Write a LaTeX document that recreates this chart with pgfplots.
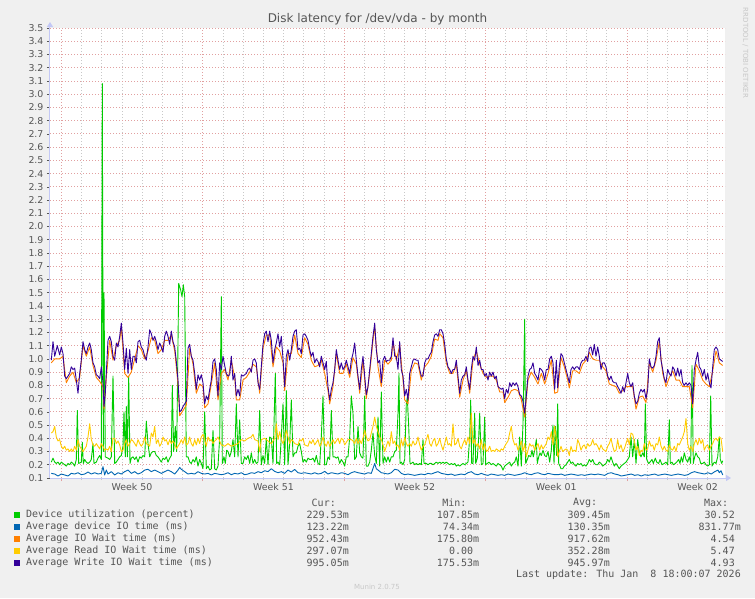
\documentclass[border=0pt]{standalone}
\usepackage{fontspec}
\setmainfont{DejaVu Sans}
\newfontfamily\monofont{DejaVu Sans Mono}
\usepackage{pgfplots}
\pgfplotsset{compat=1.18}
\usetikzlibrary{arrows.meta}

\definecolor{cgreen}{HTML}{00CC00}
\definecolor{cblue}{HTML}{0066B3}
\definecolor{corange}{HTML}{FF8000}
\definecolor{cyellow}{HTML}{FFCC00}
\definecolor{cpurple}{HTML}{330099}
\definecolor{bg}{HTML}{F0F0F0}
\definecolor{txt}{HTML}{555555}
\definecolor{gridred}{RGB}{225,160,160}
\definecolor{gridgray}{RGB}{200,200,200}
\definecolor{axisblue}{RGB}{195,200,245}

\newcommand{\mono}{\monofont\fontsize{10}{12}\selectfont}

\begin{document}
\begin{tikzpicture}[x=1pt,y=1pt]
\fill[bg] (0,0) rectangle (755,598);
\useasboundingbox (0,0) rectangle (755,598);

% title and side text
\node[text=txt, font=\fontsize{12}{14}\selectfont] at (377.5,579) {Disk latency for /dev/vda - by month};
\node[text=gridgray, rotate=-90, font=\fontsize{7}{8}\selectfont] at (745.5,545) {RRDTOOL / TOBI OETIKER};

\begin{axis}[
  at={(50pt,120pt)}, anchor=south west,
  scale only axis, width=675pt, height=450pt,
  xmin=50, xmax=725, ymin=0.1, ymax=3.5,
  axis x line=bottom, axis y line=left,
  axis background/.style={fill=white},
  x axis line style={draw=axisblue, line width=1pt, shorten >=-6pt, -{Triangle[width=6pt,length=5pt]}},
  y axis line style={draw=axisblue, line width=1pt, shorten >=-6pt, -{Triangle[width=6pt,length=5pt]}},
  xtick={61.3,202.7,344.1,485.5,626.9},
  xticklabels={},
  minor xtick={81.5,101.7,121.9,142.1,162.3,182.5,222.9,243.1,263.3,283.5,303.7,323.9,364.3,384.5,404.7,424.9,445.1,465.3,505.7,525.9,546.1,566.3,586.5,606.7,647.1,667.3,687.5,707.7},
  extra x ticks={132,273.4,414.8,556.2,697.6},
  extra x tick labels={Week 50,Week 51,Week 52,Week 01,Week 02},
  extra x tick style={grid=none, major tick length=0pt, ticklabel style={yshift=-2pt}},
  ytick={0.1,0.2,0.3,0.4,0.5,0.6,0.7,0.8,0.9,1.0,1.1,1.2,1.3,1.4,1.5,1.6,1.7,1.8,1.9,2.0,2.1,2.2,2.3,2.4,2.5,2.6,2.7,2.8,2.9,3.0,3.1,3.2,3.3,3.4,3.5},
  yticklabel={\pgfmathprintnumber[fixed,fixed zerofill,precision=1]{\tick}},
  /pgf/number format/assume math mode=true,
  tick label style={font=\fontsize{9.4}{11}\selectfont, text=txt},
  tick align=outside,
  major tick length=3pt, minor tick length=2pt,
  x tick style={draw=gridred, line width=0.8pt},
  minor x tick style={draw=gridgray, line width=0.8pt},
  y tick style={draw=txt, line width=0.6pt},
  grid=both,
  major grid style={draw=gridred, line width=0.8pt, dash pattern=on 1pt off 2pt},
  minor grid style={draw=gridgray, line width=0.8pt, dash pattern=on 1pt off 2pt},
  every axis plot/.append style={no marks, line width=0.9pt, line join=round},
  clip=true,
]
% Device utilization (percent)
\addplot[cgreen] coordinates {(51.3,0.22)(53,0.25)(54.7,0.22)(56.3,0.21)(58,0.22)(59.7,0.20)(61.3,0.22)(63,0.21)(64.7,0.20)(66.3,0.19)(68,0.21)(69.7,0.20)(71.3,0.22)(73,0.21)(74.7,0.19)(76.3,0.24)(77.3,0.61)(78.7,0.21)(81.3,0.22)(82.3,0.37)(83.3,0.21)(84.7,0.24)(86.3,0.22)(88,0.21)(89.7,0.22)(91.3,0.24)(93,0.36)(94,0.21)(96.3,0.22)(98,0.25)(99.7,0.27)(101.3,0.24)(102.3,3.08)(103.3,0.30)(104,1.50)(105.3,0.26)(108,0.25)(109.7,0.24)(111.3,0.26)(113,0.87)(114.7,0.21)(116.3,0.22)(118,0.24)(119.7,0.26)(121.3,0.27)(123,0.34)(124,0.60)(125.3,0.26)(126.3,0.64)(127.3,0.26)(128.7,0.87)(130,0.21)(131.3,0.25)(133,0.26)(134.7,0.24)(136.3,0.26)(138,0.22)(139.7,0.26)(141.3,0.25)(143,0.27)(144.7,0.26)(146.3,0.53)(148,0.36)(149.7,0.26)(151.3,0.29)(153,0.30)(154.7,0.30)(156.3,0.27)(158,0.26)(159.7,0.24)(161.3,0.22)(163,0.25)(164.7,0.24)(166.3,0.26)(168,0.22)(169.7,0.25)(171.3,0.27)(172.3,0.80)(173.7,0.30)(175.3,0.49)(176.7,0.30)(178.7,1.57)(180.7,1.52)(182,1.47)(183.3,1.56)(184.7,1.47)(186.3,0.26)(188,0.26)(189.7,0.22)(191.3,0.21)(193,0.24)(194.7,0.22)(196.3,0.26)(198,0.19)(199.7,0.24)(201.3,0.21)(203,0.17)(204.7,0.60)(206.3,0.17)(208,0.19)(209.7,0.16)(211.3,0.17)(213,0.46)(214.7,0.17)(216.3,0.16)(218,0.19)
(219.7,0.41)(221.3,1.47)(222.3,0.21)(224,0.26)(225.3,0.21)(226.7,0.31)(228,0.30)(229.7,0.26)(231.3,0.30)(233,0.39)(234.7,0.26)(236.3,0.66)(238,0.26)(239.7,0.54)(241.3,0.21)(243,0.21)(244.7,0.26)(246.3,0.24)(248,0.27)(249.7,0.21)(251.3,0.29)(253,0.21)(254.7,0.24)(256.3,0.21)(258,0.22)(259.7,0.61)(261.3,0.20)(263,0.27)(264.7,0.21)(266.3,0.40)(268,0.20)(269.7,0.41)(271.3,0.40)(273,0.21)(275.3,0.89)(276.7,0.21)(278,0.22)(279.7,0.20)(281.3,0.41)(283,0.66)(284.7,0.20)(286.3,0.76)(288,0.20)(289.7,0.36)(291.3,0.69)(293,0.26)(294.7,0.29)(296.3,0.29)(298,0.34)(299.7,0.36)(301.3,0.30)(303,0.22)(304.7,0.24)(306.3,0.22)(308,0.25)(309.7,0.24)(311.3,0.24)(313,0.25)(314.7,0.22)(316.3,0.27)(318,0.21)(319.7,0.20)(321.3,0.41)(323,0.72)(324.7,0.20)(326.3,0.20)(328,0.26)(329.7,0.24)(331.3,0.61)(333,0.26)(334.7,0.26)(336.3,0.25)(338,0.26)(339.7,0.21)(341.3,0.24)(343,0.22)(344.7,0.19)(346.3,0.26)(348,0.26)(349.7,0.41)(351.3,0.72)(353,0.59)(354.7,0.24)(356.3,0.26)(358,0.49)(359.7,0.29)(361.3,0.26)(363,0.25)(364.7,0.72)(366.3,0.19)(368,0.19)(369.7,0.22)(371.3,0.31)(373,0.44)(374.7,0.27)(376.3,0.21)(378,0.56)(379.7,0.19)(381.3,0.75)(383,0.21)(384.7,0.26)(386.3,0.22)(388,0.26)
(389.7,0.22)(391.3,0.26)(393,0.26)(394.7,0.30)(396.3,0.31)(398,0.59)(399,0.89)(400,0.21)(401.3,0.22)(403,0.20)(404.7,0.24)(406.3,0.66)(407.3,0.71)(408.7,0.49)(410,0.21)(411.3,0.21)(413,0.22)(414.7,0.20)(416.3,0.21)(418,0.20)(419.7,0.21)(421.3,0.20)(423,0.39)(424,0.21)(426.3,0.21)(428,0.20)(429.7,0.21)(431.3,0.21)(433,0.20)(434.7,0.21)(436.3,0.22)(438,0.21)(439.7,0.22)(441.3,0.21)(443,0.22)(444.7,0.21)(446.3,0.22)(448,0.21)(449.7,0.20)(451.3,0.21)(453,0.20)(454.7,0.21)(456.3,0.19)(458,0.20)(459.7,0.19)(461.3,0.20)(463,0.21)(464.7,0.20)(466.3,0.21)(468,0.22)(469.7,0.41)(470.7,0.69)(471.7,0.21)(473,0.21)(474.7,0.59)(475.7,0.21)(477.3,0.25)(478.7,0.41)(479.7,0.59)(481.3,0.20)(483,0.21)(484.7,0.56)(485.7,0.20)(487.3,0.21)(489,0.22)(491.3,0.20)(493,0.21)(494.7,0.20)(496.3,0.19)(498,0.21)(499.7,0.20)(501.3,0.19)(503,0.16)(504.7,0.19)(506.3,0.20)(508,0.21)(509.7,0.22)(511.3,0.19)(513,0.21)(514.7,0.22)(516.3,0.26)(518,0.19)(519.7,0.41)(521.3,0.19)(523,0.51)(524.7,1.30)(525.7,0.21)(527.3,0.24)(528.7,0.27)(530.7,0.26)(532,0.31)(533.3,0.26)(534.7,0.31)(536.3,0.39)(537.3,0.21)(538.7,0.26)(540,0.29)(541.3,0.27)(543,0.31)(544.7,0.27)(546.3,0.26)(548,0.30)(549.7,0.22)(551.3,0.31)(553,0.50)(554,0.21)(555.3,0.49)(556.7,0.27)
(557.7,0.66)(558.7,0.21)(560,0.19)(561,0.17)(562.7,0.17)(564.3,0.19)(566,0.20)(567.7,0.22)(569.3,0.24)(571,0.21)(572.7,0.22)(574.3,0.20)(576,0.19)(577.7,0.21)(579.3,0.20)(581,0.21)(582.7,0.19)(584.3,0.20)(586,0.19)(587.7,0.21)(589.3,0.24)(591,0.22)(592.7,0.24)(594.3,0.21)(596,0.20)(597.7,0.20)(599.3,0.22)(601,0.21)(602.7,0.19)(604.3,0.20)(606,0.21)(607.7,0.24)(609.3,0.22)(611,0.26)(612.7,0.22)(614.3,0.19)(616,0.21)(617.7,0.19)(619.3,0.17)(621,0.19)(622.7,0.20)(624.3,0.21)(626,0.22)(627.7,0.24)(629.3,0.26)(631,0.41)(632.7,0.26)(634.3,0.39)(636,0.21)(637.7,0.39)(639.3,0.29)(641,0.26)(642.7,0.29)(644.3,0.26)(645.3,0.66)(646.7,0.24)(648.7,0.21)(650,0.22)(652,0.24)(653.3,0.21)(655.3,0.25)(656.7,0.22)(658.7,0.21)(660,0.24)(662,0.20)(664.3,0.21)(666,0.22)(667.7,0.20)(669.3,0.54)(670.3,0.21)(672,0.22)(673.3,0.20)(675.3,0.21)(676.7,0.22)(678.7,0.24)(680,0.21)(681.3,0.26)(682.7,0.22)(684.3,0.29)(686,0.24)(687.7,0.22)(689.3,0.26)(690.7,0.21)(692,0.95)(693.3,0.21)(694.7,0.26)(696,0.29)(697.7,0.26)(699.3,0.25)(700.7,0.21)(702.7,0.21)(704.3,0.22)(706,0.20)(707.7,0.19)(709.3,0.20)(710.7,0.72)(712,0.19)(713.3,0.21)(714.7,0.22)(716,0.21)(717.7,0.26)(719.3,0.41)(720.3,0.24)(721.7,0.21)(722.7,0.23)};
% Average device IO time (ms)
\addplot[cblue] coordinates {(51.3,0.135)(54.7,0.13)(58,0.115)(61.3,0.13)(64.7,0.123)(68,0.115)(71.3,0.135)(74.7,0.13)(78,0.14)(81.3,0.125)(84.7,0.13)(88,0.145)(91.3,0.13)(94.7,0.14)(98,0.13)(101.3,0.135)(103,0.186)(104.7,0.123)(106.3,0.16)(108,0.13)(111.3,0.148)(114.7,0.123)(118,0.14)(121.3,0.13)(124.7,0.148)(128,0.16)(131.3,0.135)(134.7,0.148)(138,0.13)(141.3,0.14)(144.7,0.16)(148,0.166)(151.3,0.148)(154.7,0.16)(158,0.148)(161.3,0.135)(164.7,0.148)(168,0.16)(171.3,0.148)(174.7,0.13)(178,0.16)(179.7,0.18)(181.3,0.166)(184.7,0.148)(188,0.13)(191.3,0.135)(194.7,0.13)(198,0.148)(201.3,0.135)(204.7,0.13)(208,0.135)(211.3,0.123)(214.7,0.135)(218,0.13)
(221.3,0.125)(224.7,0.13)(228,0.14)(231.3,0.125)(234.7,0.135)(238,0.13)(241.3,0.14)(244.7,0.125)(248,0.13)(251.3,0.14)(254.7,0.135)(258,0.148)(261.3,0.14)(264.7,0.155)(268,0.148)(271.3,0.17)(274.7,0.15)(278,0.14)(281.3,0.148)(284.7,0.135)(288,0.16)(291.3,0.145)(294.7,0.165)(298,0.14)(301.3,0.135)(304.7,0.14)(308,0.135)(311.3,0.13)(314.7,0.14)(318,0.13)(321.3,0.135)(324.7,0.15)(328,0.13)(331.3,0.14)(334.7,0.135)(338,0.13)(341.3,0.14)(344.7,0.135)(348,0.125)(351.3,0.14)(354.7,0.148)(358,0.14)(361.3,0.135)(364.7,0.13)(368,0.14)(371.3,0.135)(374.7,0.21)(376.3,0.17)(378,0.16)(381.3,0.14)(384.7,0.135)(388,0.13)
(391.3,0.14)(394.7,0.166)(398,0.16)(401.3,0.135)(404.7,0.125)(408,0.13)(411.3,0.125)(414.7,0.12)(418,0.125)(421.3,0.13)(424.7,0.125)(428,0.135)(431.3,0.13)(434.7,0.14)(438,0.148)(441.3,0.135)(444.7,0.13)(448,0.125)(451.3,0.13)(454.7,0.12)(458,0.125)(461.3,0.13)(464.7,0.125)(468,0.14)(471.3,0.148)(474.7,0.13)(478,0.125)(481.3,0.135)(484.7,0.125)(488,0.12)(491.3,0.13)(494.7,0.125)(498,0.12)(501.3,0.125)(504.7,0.12)(508,0.13)(511.3,0.125)(514.7,0.12)(518,0.125)(521.3,0.13)(524.7,0.14)(528,0.13)(531.3,0.125)(534.7,0.135)(538,0.14)(541.3,0.13)(544.7,0.125)(548,0.135)(551.3,0.13)(554.7,0.125)
(558,0.125)(561.3,0.13)(564.7,0.12)(568,0.125)(571.3,0.13)(574.7,0.125)(578,0.12)(581.3,0.125)(584.7,0.12)(588,0.125)(591.3,0.13)(594.7,0.125)(598,0.13)(601.3,0.125)(604.7,0.12)(608,0.135)(611.3,0.14)(614.7,0.13)(618,0.125)(621.3,0.115)(624.7,0.12)(628,0.125)(631.3,0.13)(634.7,0.12)(638,0.125)(641.3,0.115)(644.7,0.125)(648,0.12)(651.3,0.125)(654.7,0.13)(658,0.12)(661.3,0.125)(664.7,0.13)(668,0.125)(671.3,0.12)(674.7,0.125)(678,0.13)(681.3,0.125)(684.7,0.12)(688,0.125)(691.3,0.14)(694.7,0.148)(698,0.14)(701.3,0.135)(704.7,0.13)(708,0.14)(711.3,0.13)(714.7,0.148)(718,0.16)(719.3,0.14)(721,0.155)(722.7,0.123)};
% Average IO Wait time (ms)
\addplot[corange] coordinates {(51.3,0.97)(54.7,1.00)(59.7,1.00)(63,1.02)(66.3,0.82)(69.7,0.87)(73,0.90)(76.3,0.82)(79.7,0.86)(83,1.10)(86.3,1.02)(89.7,1.09)(93,0.95)(96.3,0.86)(99.7,0.83)(103,0.79)(104,0.62)(106.3,0.86)(109.7,1.14)(113,0.99)(116.3,1.10)(119.7,1.14)(121.3,1.24)(124.7,0.89)(128,0.86)(131.3,0.90)(134.7,1.00)(138,1.10)(141.3,1.07)(144.7,1.00)(148,1.06)(151.3,1.16)(154.7,1.14)(158,1.04)(161.3,1.07)(164.7,1.14)(168,1.14)(171.3,1.18)(174.7,1.06)(178,0.81)(179.7,0.57)(183,0.61)(186.3,0.65)(189.7,1.08)(193,0.96)(196.3,0.74)(199.7,0.81)(203,0.79)(204.7,0.63)(208,0.66)(211.3,0.81)(214.7,0.97)(218,0.69)(221.3,0.89)(224.7,0.92)(228,0.84)(231.3,0.99)(234.7,0.86)(236.3,0.69)(239.7,0.69)(243,0.84)(246.3,0.86)(249.7,0.90)(253,0.96)(256.3,0.94)(259.7,0.74)(263,1.08)(266.3,1.18)(269.7,1.18)(273,0.94)(276.3,1.09)(279.7,1.06)(283,0.97)(284.7,0.76)(288,1.04)(291.3,1.04)(294.7,1.18)(298,1.04)(301.3,1.01)(304.7,1.16)(308,1.11)(311.3,0.99)(314.7,0.94)(318,0.95)(321.3,0.99)(324.7,0.89)(328,0.76)(329.7,0.66)(333,0.79)(336.3,1.04)(339.7,0.89)(343,0.89)(346.3,0.96)(349.7,0.86)(353,1.01)(356.3,0.96)(359.7,0.74)(363,0.99)(366.3,0.70)(369.7,0.89)(373,1.14)(374.7,1.24)(378,0.94)(381.3,0.79)(384.7,0.99)(388,0.96)(391.3,0.99)(393,1.13)(396.3,0.99)(399.7,1.10)(403,0.84)(404.7,0.69)(408,0.66)(411.3,0.91)(414.7,0.97)(418,0.96)(421.3,0.84)(424.7,0.94)(428,0.97)(431.3,1.02)(434.7,1.15)(438,1.14)(439.7,1.19)(443,1.16)(446.3,0.97)(449.7,0.89)(453,0.89)(456.3,0.96)(459.7,0.71)(463,0.84)(466.3,0.91)(469.7,0.74)(473,0.99)(476.3,1.06)(479.7,0.96)(483,0.89)(486.3,0.86)(489.7,0.87)(493,0.87)(496.3,0.84)(499.7,0.75)(503,0.75)(504.7,0.67)(508,0.71)(511.3,0.76)(514.7,0.77)(518,0.76)(521.3,0.69)(524.7,0.56)(528,0.84)(531.3,0.90)(534.7,0.86)(538,0.81)(541.3,0.89)(544.7,0.81)(548,0.89)(551.3,0.99)(554.7,0.74)(557.7,0.75)(561,1.01)(564.3,0.94)(567.7,0.84)(569.3,0.78)(572.7,0.91)(576,0.91)(579.3,0.89)(582.7,0.96)(586,0.99)(589.3,1.05)(592.7,1.00)(596,0.99)(599.3,0.99)(602.7,0.94)(606,0.91)(609.3,0.81)(612.7,0.80)(616,0.79)(619.3,0.74)(622.7,0.76)(626,0.79)(629.3,0.79)(632.7,0.79)(636,0.62)(639.3,0.71)(642.7,0.72)(646,0.67)(649.3,0.97)(652.7,0.90)(656,0.99)(659.3,1.13)(662.7,0.89)(666,0.79)(669.3,0.86)(672.7,0.91)(676,0.84)(679.3,0.84)(682.7,0.79)(686,0.79)(689.3,0.79)(692.7,0.63)(696,0.96)(699.3,0.91)(702.7,0.84)(706,0.81)(709.3,0.79)(712.7,0.91)(716,1.06)(719.3,0.97)(722.7,0.95)};
% Average Read IO Wait time (ms)
\addplot[cyellow] coordinates {(51.3,0.44)(53,0.45)(54.7,0.49)(56.3,0.41)(58,0.38)(59.7,0.39)(61.3,0.34)(63,0.32)(64.7,0.34)(66.3,0.31)(68,0.32)(69.7,0.30)(71.3,0.32)(73,0.30)(74.7,0.34)(76.3,0.31)(78,0.39)(79.7,0.34)(81.3,0.32)(83,0.30)(84.7,0.32)(86.3,0.34)(88,0.41)(89.7,0.51)(91.3,0.39)(93,0.35)(94.7,0.34)(96.3,0.36)(98,0.34)(99.7,0.32)(101.3,0.36)(103,0.34)(104.7,0.31)(106.3,0.32)(108,0.31)(109.7,0.34)(111.3,0.30)(113,0.40)(114.7,0.40)(116.3,0.36)(118,0.38)(119.7,0.35)(121.3,0.30)(123,0.31)(124.7,0.36)(126.3,0.39)(128,0.34)(129.7,0.36)(131.3,0.39)(133,0.38)(134.7,0.36)(136.3,0.34)(138,0.39)(139.7,0.36)(141.3,0.34)(143,0.36)(144.7,0.41)(146.3,0.36)(148,0.35)(149.7,0.34)(151.3,0.44)(153,0.41)(154.7,0.49)(156.3,0.36)(158,0.39)(159.7,0.34)(161.3,0.36)(163,0.41)(164.7,0.38)(166.3,0.39)(168,0.35)(169.7,0.39)(171.3,0.36)(173,0.38)(174.7,0.36)(176.3,0.32)(178,0.34)(179.7,0.36)(181.3,0.39)(183,0.36)(184.7,0.41)(186.3,0.35)(188,0.36)(189.7,0.41)(191.3,0.36)(193,0.34)(194.7,0.39)(196.3,0.35)(198,0.40)(199.7,0.36)(201.3,0.41)(203,0.43)(204.7,0.39)(206.3,0.34)(208,0.41)(209.7,0.38)(211.3,0.39)(213,0.36)(214.7,0.38)(216.3,0.39)(218,0.41)
(221.3,0.35)(224.7,0.34)(228,0.36)(231.3,0.34)(234.7,0.35)(238,0.36)(241.3,0.39)(244.7,0.38)(248,0.40)(251.3,0.41)(253,0.43)(254.7,0.39)(258,0.38)(259.7,0.30)(261.3,0.39)(264.7,0.40)(268,0.38)(271.3,0.36)(274.7,0.40)(276.3,0.51)(278,0.39)(279.7,0.45)(281.3,0.39)(283,0.36)(284.7,0.40)(286.3,0.46)(288,0.41)(289.7,0.36)(291.3,0.39)(293,0.38)(294.7,0.36)(298,0.35)(299.7,0.39)(301.3,0.38)(303,0.40)(304.7,0.35)(308,0.34)(309.7,0.38)(311.3,0.36)(313,0.39)(314.7,0.35)(318,0.39)(319.7,0.34)(321.3,0.36)(323,0.41)(324.7,0.36)(326.3,0.34)(328,0.38)(329.7,0.34)(331.3,0.36)(333,0.39)(334.7,0.36)(338,0.40)(339.7,0.36)(341.3,0.40)(343,0.39)(344.7,0.35)(348,0.39)(351.3,0.39)(353,0.38)(354.7,0.36)(356.3,0.40)(358,0.36)(359.7,0.39)(361.3,0.36)(363,0.40)(364.7,0.46)(366.3,0.41)(368,0.38)(369.7,0.39)(371.3,0.44)(373,0.49)(374.7,0.56)(376.3,0.49)(378,0.45)(379.7,0.41)(381.3,0.39)(383,0.35)(384.7,0.30)(386.3,0.34)(388,0.38)
(389.7,0.34)(391.3,0.45)(393,0.36)(394.7,0.38)(396.3,0.34)(398,0.35)(399.7,0.31)(401.3,0.39)(403,0.34)(404.7,0.41)(406.3,0.36)(408,0.34)(409.7,0.36)(411.3,0.34)(413,0.38)(414.7,0.35)(416.3,0.36)(418,0.41)(419.7,0.35)(421.3,0.31)(423,0.34)(424.7,0.35)(426.3,0.39)(428,0.43)(429.7,0.36)(431.3,0.34)(433,0.38)(434.7,0.40)(436.3,0.34)(438,0.36)(439.7,0.40)(441.3,0.35)(443,0.31)(444.7,0.36)(446.3,0.41)(448,0.35)(449.7,0.36)(451.3,0.34)(453,0.51)(454.7,0.35)(456.3,0.36)(458,0.40)(459.7,0.34)(461.3,0.32)(463,0.36)(464.7,0.39)(466.3,0.35)(468,0.41)(469.7,0.36)(471.3,0.59)(473,0.36)(474.7,0.39)(476.3,0.34)(478,0.36)(479.7,0.32)(481.3,0.39)(483,0.31)(484.7,0.36)(486.3,0.30)(488,0.31)(489.7,0.34)(491.3,0.30)(493,0.31)(494.7,0.30)(496.3,0.32)(498,0.31)(499.7,0.30)(501.3,0.32)(503,0.31)(504.7,0.34)(506.3,0.36)(508,0.38)(509.7,0.44)(511.3,0.49)(513,0.39)(514.7,0.35)(516.3,0.36)(518,0.31)(519.7,0.34)(521.3,0.38)(523,0.30)(524.7,0.36)(526.3,0.26)(528,0.31)(529.7,0.36)(531.3,0.34)(533,0.35)(534.7,0.31)(536.3,0.34)(538,0.36)(539.7,0.31)(541.3,0.35)(543,0.32)(544.7,0.34)(546.3,0.36)(548,0.41)(549.7,0.39)(551.3,0.45)(553,0.35)(554.7,0.49)(556.3,0.39)
(557.7,0.26)(559.3,0.30)(561,0.34)(562.7,0.30)(564.3,0.31)(566,0.32)(567.7,0.31)(569.3,0.27)(571,0.34)(572.7,0.30)(574.3,0.31)(576,0.30)(577.7,0.39)(579.3,0.36)(581,0.31)(582.7,0.34)(584.3,0.35)(586,0.32)(587.7,0.36)(589.3,0.34)(591,0.35)(592.7,0.39)(594.3,0.35)(596,0.36)(597.7,0.34)(599.3,0.31)(601,0.35)(602.7,0.32)(604.3,0.31)(606,0.30)(607.7,0.34)(609.3,0.36)(611,0.40)(612.7,0.34)(614.3,0.30)(616,0.31)(617.7,0.39)(619.3,0.32)(621,0.35)(622.7,0.30)(624.3,0.32)(626,0.36)(627.7,0.40)(629.3,0.35)(631,0.44)(632.7,0.43)(634.3,0.38)(636,0.31)(637.7,0.34)(639.3,0.27)(641,0.31)(642.7,0.30)(644.3,0.36)(646,0.31)(647.7,0.32)(649.3,0.38)(651,0.34)(652.7,0.35)(654.3,0.31)(656,0.36)(657.7,0.35)(659.3,0.41)(661,0.34)(662.7,0.31)(664.3,0.34)(666,0.31)(667.7,0.30)(669.3,0.35)(671,0.32)(672.7,0.31)(674.3,0.34)(676,0.30)(677.7,0.36)(679.3,0.35)(681,0.38)(682.7,0.41)(684.3,0.45)(686,0.55)(687.7,0.36)(689.3,0.31)(691,0.34)(692.7,0.30)(694.3,0.36)(696,0.39)(697.7,0.35)(699.3,0.40)(701,0.36)(702.7,0.39)(704.3,0.31)(706,0.34)(707.7,0.35)(709.3,0.31)(711,0.34)(712.7,0.36)(714.3,0.39)(716,0.40)(717.7,0.38)(719.3,0.41)(721,0.40)(722.7,0.30)};
% Average Write IO Wait time (ms)
\addplot[cpurple] coordinates {(51.3,0.99)(53,1.13)(54.7,1.02)(57.3,1.10)(59.7,1.03)(61.3,1.09)(63,1.04)(64.7,0.87)(66.3,0.85)(68,0.87)(69.7,0.89)(71.3,0.94)(73,0.92)(74.7,0.93)(76.3,0.84)(78,0.74)(79.7,0.89)(81.3,0.99)(83,1.13)(84.7,1.07)(86.3,1.04)(88,1.09)(89.7,1.12)(91.3,1.07)(93,0.97)(94.7,0.94)(96.3,0.88)(98,0.87)(99.7,0.85)(101.3,0.94)(103,0.82)(104,0.64)(105.3,0.74)(106.3,0.89)(108,1.14)(109.7,1.17)(111.3,1.13)(113,1.02)(114.7,0.99)(116.3,1.12)(118,1.09)(119.7,1.17)(121.3,1.27)(123,1.12)(124.7,0.92)(126.3,1.08)(128,0.89)(129.7,1.07)(131.3,0.92)(133,1.02)(134.7,1.02)(136.3,0.97)(138,1.13)(139.7,1.14)(141.3,1.09)(143,1.07)(144.7,1.02)(146.3,0.99)(148,1.09)(149.7,1.22)(151.3,1.19)(153,1.14)(154.7,1.17)(156.3,1.13)(158,1.07)(159.7,1.12)(161.3,1.09)(163,1.05)(164.7,1.17)(166.3,1.21)(168,1.17)(169.7,1.11)(171.3,1.21)(173,1.13)(174.7,1.09)(176.3,0.98)(178,0.84)(179.7,0.60)(181.3,0.61)(183,0.64)(184.7,0.66)(186.3,0.68)(188,1.08)(189.7,1.11)(191.3,1.02)(193,0.99)(194.7,0.89)(196.3,0.77)(198,0.88)(199.7,0.84)(201.3,0.88)(203,0.82)(204.7,0.66)(206.3,0.72)(208,0.69)(209.7,0.77)(211.3,0.84)(213,0.98)(214.7,1.00)(216.3,0.92)(218,0.72)
(219.7,0.97)(221.3,0.92)(223,1.02)(224.7,0.95)(226.3,0.89)(228,0.87)(229.7,0.88)(231.3,1.02)(233,0.84)(234.7,0.89)(236.3,0.72)(238,0.77)(239.7,0.72)(241.3,0.88)(243,0.87)(244.7,0.88)(246.3,0.89)(248,0.92)(249.7,0.93)(251.3,0.90)(253,0.99)(254.7,1.00)(256.3,0.97)(258,0.82)(259.7,0.77)(261.3,0.94)(263,1.11)(264.7,1.19)(266.3,1.21)(268,1.13)(269.7,1.21)(271.3,1.14)(273,0.97)(274.7,1.07)(276.3,1.12)(278,1.19)(279.7,1.09)(281.3,1.17)(283,1.00)(284.7,0.79)(286.3,1.02)(288,1.07)(289.7,0.99)(291.3,1.07)(293,1.17)(294.7,1.21)(296.3,1.22)(298,1.07)(299.7,1.08)(301.3,1.04)(303,1.18)(304.7,1.19)(306.3,1.17)(308,1.14)(309.7,1.07)(311.3,1.02)(313,1.05)(314.7,0.97)(316.3,1.00)(318,0.98)(319.7,0.94)(321.3,1.02)(323,0.97)(324.7,0.92)(326.3,0.98)(328,0.79)(329.7,0.69)(331.3,0.77)(333,0.82)(334.7,0.92)(336.3,1.07)(338,0.99)(339.7,0.92)(341.3,0.97)(343,0.92)(344.7,0.94)(346.3,0.99)(348,0.94)(349.7,0.89)(351.3,0.99)(353,1.04)(354.7,1.12)(356.3,0.99)(358,0.87)(359.7,0.77)(361.3,0.92)(363,1.02)(364.7,0.87)(366.3,0.73)(368,0.79)(369.7,0.92)(371.3,1.04)(373,1.17)(374.7,1.27)(376.3,1.07)(378,0.97)(379.7,0.99)(381.3,0.82)(383,0.99)(384.7,1.02)(386.3,0.98)(388,0.99)
(389.7,0.99)(391.3,1.02)(393,1.16)(394.7,1.02)(396.3,1.02)(398,0.92)(399.7,1.13)(401.3,0.92)(403,0.87)(404.7,0.72)(406.3,0.77)(408,0.69)(409.7,0.89)(411.3,0.94)(413,0.99)(414.7,1.00)(416.3,0.99)(418,0.99)(419.7,0.92)(421.3,0.87)(423,0.87)(424.7,0.97)(426.3,1.00)(428,1.00)(429.7,1.03)(431.3,1.05)(433,1.13)(434.7,1.18)(436.3,1.19)(438,1.17)(439.7,1.22)(441.3,1.22)(443,1.19)(444.7,1.11)(446.3,1.00)(448,0.94)(449.7,0.92)(451.3,0.89)(453,0.92)(454.7,0.92)(456.3,0.99)(458,0.87)(459.7,0.74)(461.3,0.84)(463,0.87)(464.7,0.88)(466.3,0.94)(468,0.84)(469.7,0.77)(471.3,0.92)(473,1.02)(474.7,0.99)(476.3,1.09)(478,0.95)(479.7,0.99)(481.3,0.92)(483,0.92)(484.7,0.87)(486.3,0.89)(488,0.84)(489.7,0.90)(491.3,0.87)(493,0.90)(494.7,0.85)(496.3,0.87)(498,0.79)(499.7,0.78)(501.3,0.77)(503,0.78)(504.7,0.70)(506.3,0.77)(508,0.74)(509.7,0.82)(511.3,0.79)(513,0.82)(514.7,0.80)(516.3,0.82)(518,0.79)(519.7,0.73)(521.3,0.72)(523,0.68)(524.7,0.59)(526.3,0.72)(528,0.87)(529.7,0.92)(531.3,0.93)(533,0.97)(534.7,0.89)(536.3,0.87)(538,0.84)(539.7,0.93)(541.3,0.92)(543,0.90)(544.7,0.84)(546.3,0.92)(548,0.92)(549.7,1.00)(551.3,1.02)(553,0.97)(554.7,0.77)(556.3,0.99)
(557.7,0.78)(559.3,0.94)(561,1.04)(562.7,1.02)(564.3,0.97)(566,0.92)(567.7,0.87)(569.3,0.82)(571,0.92)(572.7,0.94)(574.3,0.92)(576,0.94)(577.7,0.94)(579.3,0.92)(581,0.97)(582.7,0.99)(584.3,0.99)(586,1.02)(587.7,0.98)(589.3,1.08)(591,1.09)(592.7,1.03)(594.3,1.11)(596,1.02)(597.7,1.09)(599.3,1.02)(601,0.92)(602.7,0.97)(604.3,0.97)(606,0.94)(607.7,0.87)(609.3,0.84)(611,0.87)(612.7,0.83)(614.3,0.82)(616,0.82)(617.7,0.79)(619.3,0.77)(621,0.74)(622.7,0.79)(624.3,0.75)(626,0.82)(627.7,0.89)(629.3,0.82)(631,0.79)(632.7,0.82)(634.3,0.72)(636,0.66)(637.7,0.68)(639.3,0.74)(641,0.77)(642.7,0.75)(644.3,0.77)(646,0.70)(647.7,0.77)(649.3,1.00)(651,0.94)(652.7,0.93)(654.3,0.95)(656,1.02)(657.7,1.13)(659.3,1.16)(661,0.99)(662.7,0.92)(664.3,0.85)(666,0.82)(667.7,0.92)(669.3,0.89)(671,0.87)(672.7,0.94)(674.3,0.92)(676,0.87)(677.7,0.93)(679.3,0.87)(681,0.92)(682.7,0.82)(684.3,0.80)(686,0.82)(687.7,0.80)(689.3,0.82)(691,0.80)(692.7,0.66)(694.3,0.92)(696,0.99)(697.7,1.05)(699.3,0.94)(701,0.92)(702.7,0.87)(704.3,0.92)(706,0.84)(707.7,0.89)(709.3,0.82)(711,0.78)(712.7,0.94)(714.3,1.07)(716,1.09)(717.7,1.07)(719.3,1.00)(721,0.99)(722.7,0.98)};
\end{axis}

% legend
\begin{scope}[every node/.style={inner sep=0pt, text=txt, font=\mono}]
\node[anchor=east] at (336,95.5) {Cur:};
\node[anchor=east] at (466.7,95.5) {Min:};
\node[anchor=east] at (597.3,95.5) {Avg:};
\node[anchor=east] at (728.3,95.5) {Max:};

\fill[cgreen]  (14,80) rectangle (20,86);
\fill[cblue]   (14,68) rectangle (20,74);
\fill[corange] (14,56) rectangle (20,62);
\fill[cyellow] (14,44) rectangle (20,50);
\fill[cpurple] (14,32) rectangle (20,38);

\node[anchor=west] at (26,83) {Device utilization (percent)};
\node[anchor=west] at (26,71) {Average device IO time (ms)};
\node[anchor=west] at (26,59) {Average IO Wait time (ms)};
\node[anchor=west] at (26,47) {Average Read IO Wait time (ms)};
\node[anchor=west] at (26,35) {Average Write IO Wait time (ms)};

\node[anchor=east] at (349,83) {229.53m};
\node[anchor=east] at (349,71) {123.22m};
\node[anchor=east] at (349,59) {952.43m};
\node[anchor=east] at (349,47) {297.07m};
\node[anchor=east] at (349,35) {995.05m};

\node[anchor=east] at (479.3,83) {107.85m};
\node[anchor=east] at (479.3,71) {74.34m};
\node[anchor=east] at (479.3,59) {175.80m};
\node[anchor=east] at (479.3,47) {0.00\phantom{m}};
\node[anchor=east] at (479.3,35) {175.53m};

\node[anchor=east] at (610,83) {309.45m};
\node[anchor=east] at (610,71) {130.35m};
\node[anchor=east] at (610,59) {917.62m};
\node[anchor=east] at (610,47) {352.28m};
\node[anchor=east] at (610,35) {945.97m};

\node[anchor=east] at (741,83) {30.52\phantom{m}};
\node[anchor=east] at (741,71) {831.77m};
\node[anchor=east] at (741,59) {4.54\phantom{m}};
\node[anchor=east] at (741,47) {5.47\phantom{m}};
\node[anchor=east] at (741,35) {4.93\phantom{m}};

\node[anchor=east] at (741,23.5) {Last update: Thu Jan\ \ 8 18:00:07 2026};
\end{scope}
\node[text=gridgray, font=\fontsize{7}{8}\selectfont] at (377,11) {Munin 2.0.75};
\end{tikzpicture}
\end{document}
